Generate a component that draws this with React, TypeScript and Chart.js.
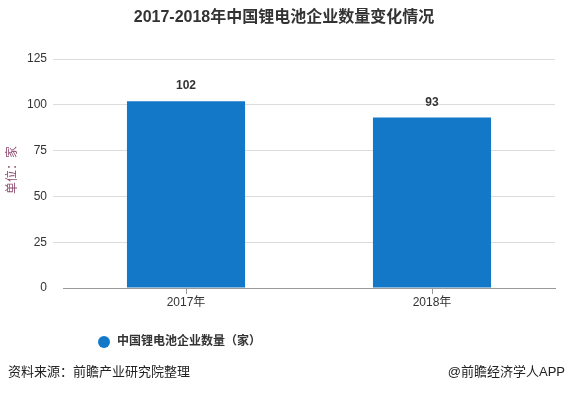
import React, { useEffect, useRef } from "react";
import { Chart, registerables } from "chart.js";

Chart.register(...registerables);

const categories = ["2017年", "2018年"];
const values = [102, 93];
const seriesName = "中国锂电池企业数量（家）";
const yTicks = [0, 25, 50, 75, 100, 125];
const titleText = "2017-2018年中国锂电池企业数量变化情况";
const unitText = "单位：家";
const sourceText = "资料来源：前瞻产业研究院整理";
const creditText = "@前瞻经济学人APP";

const FONT = "'Liberation Sans', 'Noto Sans CJK SC', sans-serif";
const BAR = "#1478c8";

const overlay = {
  id: "overlay",
  afterDraw(chart: any) {
    const ctx = chart.ctx;
    const w = chart.width;
    ctx.save();
    // title
    ctx.fillStyle = "#333";
    ctx.font = `bold 16px ${FONT}`;
    ctx.textAlign = "center";
    ctx.textBaseline = "middle";
    ctx.fillText(titleText, w / 2, 18);
    // data labels
    const meta = chart.getDatasetMeta(0);
    ctx.font = `bold 12px ${FONT}`;
    ctx.fillStyle = "#333";
    meta.data.forEach((bar: any, i: number) => {
      ctx.fillText(String(values[i]), bar.x, bar.y - 15);
    });
    // unit label
    ctx.save();
    ctx.translate(13, 170);
    ctx.rotate(-Math.PI / 2);
    ctx.fillStyle = "#8e4b6e";
    ctx.font = `12px ${FONT}`;
    ctx.fillText(unitText, 0, 0);
    ctx.restore();
    // legend
    ctx.fillStyle = BAR;
    ctx.beginPath();
    ctx.arc(104, 342, 6, 0, Math.PI * 2);
    ctx.fill();
    ctx.fillStyle = "#333";
    ctx.font = `bold 12px ${FONT}`;
    ctx.textAlign = "left";
    ctx.fillText(seriesName, 117, 342);
    // footer
    ctx.font = `13px ${FONT}`;
    ctx.fillStyle = "#222";
    ctx.fillText(sourceText, 8, 372);
    ctx.textAlign = "right";
    ctx.fillText(creditText, 565, 372);
    ctx.restore();
  },
};

export default function App() {
  const ref = useRef<HTMLCanvasElement>(null);
  useEffect(() => {
    if (!ref.current) return;
    const chart = new Chart(ref.current, {
      type: "bar",
      data: {
        labels: categories,
        datasets: [
          {
            label: seriesName,
            data: values,
            backgroundColor: BAR,
            barPercentage: 0.96,
            categoryPercentage: 0.5,
          },
        ],
      },
      options: {
        animation: false,
        responsive: false,
        maintainAspectRatio: false,
        layout: { padding: { top: 59, right: 13, left: 0, bottom: 0 } },
        plugins: {
          legend: { display: false },
          title: { display: false },
          tooltip: { enabled: false },
        },
        scales: {
          x: {
            afterFit: (s: any) => {
              s.height = 105;
            },
            grid: {
              offset: false,
              drawOnChartArea: false,
              drawTicks: true,
              tickLength: 6,
              tickColor: "#999",
            },
            border: { display: true, color: "#999" },
            ticks: {
              color: "#333",
              font: { size: 12, family: FONT },
              padding: 1,
            },
          },
          y: {
            min: 0,
            max: 125,
            afterFit: (s: any) => {
              s.width = 63;
            },
            afterBuildTicks: (s: any) => {
              s.ticks = yTicks.map((v) => ({ value: v }));
            },
            grid: {
              color: (c: any) => (c.tick && c.tick.value === 0 ? "rgba(0,0,0,0)" : "#dcdcdc"),
              tickColor: (c: any) => (c.tick && c.tick.value === 0 ? "rgba(0,0,0,0)" : "#dcdcdc"),
              drawTicks: true,
              tickLength: 10,
            },
            border: { display: false },
            ticks: {
              color: "#333",
              font: { size: 12, family: FONT },
              padding: 6,
            },
          },
        },
      },
      plugins: [overlay],
    });
    return () => chart.destroy();
  }, []);
  return (
    <div style={{ position: "absolute", left: 0, top: 0, width: 568, height: 393, background: "#fff" }}>
      <canvas ref={ref} width={568} height={393} style={{ display: "block" }} />
    </div>
  );
}
